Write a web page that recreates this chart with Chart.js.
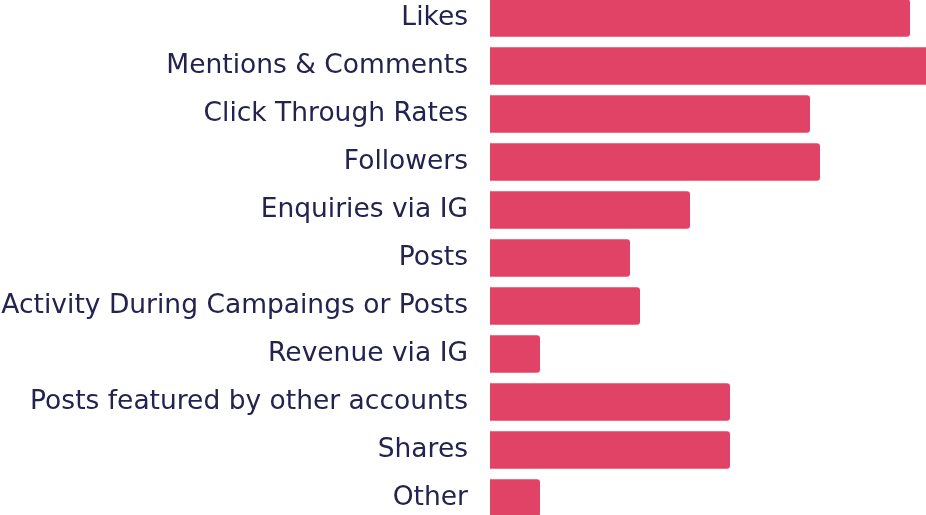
<!DOCTYPE html>
<html>
<head>
<meta charset="utf-8">
<script src="https://cdn.jsdelivr.net/npm/chart.js@4/dist/chart.umd.min.js"></script>
<style>
  html, body { margin: 0; padding: 0; background: #ffffff; overflow: hidden; width: 926px; height: 515px; }
  #c { position: absolute; left: 0; top: -6px; }
</style>
</head>
<body>
<canvas id="c" width="930" height="528" style="width:930px;height:528px"></canvas>
<script>
const categories = [
  "Likes",
  "Mentions & Comments",
  "Click Through Rates",
  "Followers",
  "Enquiries via IG",
  "Posts",
  "Activity During Campaings or Posts",
  "Revenue via IG",
  "Posts featured by other accounts",
  "Shares",
  "Other"
];
const values = [42, 44, 32, 33, 20, 14, 15, 5, 24, 24, 5];

new Chart(document.getElementById('c'), {
  type: 'bar',
  data: {
    labels: categories,
    datasets: [{
      data: values,
      backgroundColor: '#e14366',
      borderRadius: 3,
      borderSkipped: 'start',
      categoryPercentage: 1,
      barPercentage: 0.78
    }]
  },
  options: {
    indexAxis: 'y',
    responsive: false,
    maintainAspectRatio: false,
    devicePixelRatio: 1,
    animation: false,
    layout: { padding: 0 },
    plugins: { legend: { display: false }, tooltip: { enabled: false } },
    scales: {
      x: { display: false, min: 0, max: 44 },
      y: {
        grid: { display: false, drawTicks: false },
        border: { display: false },
        ticks: {
          color: '#24224f',
          padding: 22,
          font: { family: 'DejaVu Sans', size: 26.5 }
        },
        afterFit(scale) {
          scale.width = 490;
          scale.paddingTop = 0;
          scale.paddingBottom = 0;
        }
      }
    }
  }
});
</script>
</body>
</html>
